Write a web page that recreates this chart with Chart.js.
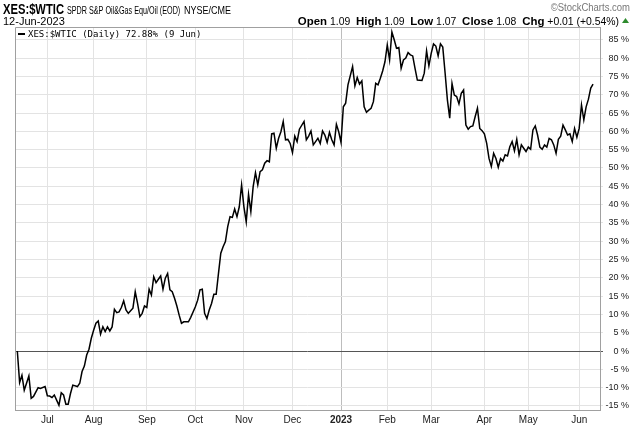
<!DOCTYPE html>
<html>
<head>
<meta charset="utf-8">
<script src="https://cdn.jsdelivr.net/npm/chart.js@4/dist/chart.umd.min.js"></script>
<style>
  html, body { margin: 0; padding: 0; background: #fff; }
  #wrap { width: 640px; height: 426px; }
</style>
</head>
<body>
<div id="wrap"><canvas id="chart" width="640" height="426"></canvas></div>
<script>
// trading-day index (0 = 13 Jun 2022) and % change of XES:$WTIC
const days = [0,1,2,3,5,6,7,9,10,12,13,14,15,16,17,18,19,20,21,22,23,24,26,27,28,29,30,31,32,33,34,35,36,37,38,39,40,41,42,43,
  44,45,46,47,48,50,51,52,53,54,55,56,57,58,59,60,61,62,63,64,65,66,67,68,69,70,71,72,74,75,77,78,79,80,81,82,83,84,85,86,87,88,
  89,90,91,92,93,94,95,96,97,98,99,100,101,102,103,104,105,106,107,108,109,110,111,112,113,114,115,116,117,118,119,120,121,122,124,125,126,127,128,129,130,131,
  132,133,134,135,136,137,138,139,140,141,142,143,145,146,147,148,149,150,151,152,153,154,155,156,157,158,159,160,161,162,163,164,165,166,167,168,169,170,171,172,173,
  175,176,177,178,179,180,181,182,183,184,185,186,187,188,189,190,191,192,193,194,195,196,197,198,199,200,201,202,203,204,205,206,207,208,209,210,211,212,213,214,215,216,217,218,
  219,220,221,222,223,224,225,226,227,228,229,230,231,232,233,234,235,236,237,238,239,240,241,242,243,244,245,246,247,248,249];
const values = [0,-8.6,-6.6,-10.7,-6.8,-12.9,-12.4,-10.0,-10.2,-9.7,-12.2,-12.3,-12.7,-12.0,-13.4,-14.8,-11.4,-12.0,-14.5,-14.5,-11.6,-9.3,-9.7,-8.8,-5.6,-4.1,-1.1,0.5,3.5,5.7,7.6,8.2,4.6,6.6,5.3,6.6,5.5,6.6,11.4,10.5,
  10.7,11.9,13.7,11.2,10.3,11.7,16.2,13.0,9.4,10.3,12.3,11.9,16.9,15.3,20.3,18.7,19.6,20.5,16.9,19.9,21.2,16.7,16.2,14.4,12.3,9.8,7.6,8.0,8.0,9.2,12.1,13.9,16.7,16.9,10.3,8.9,11.2,13.0,15.5,15.5,21.2,26.7,
  28.5,29.9,34.0,36.7,36.5,38.8,36.7,39.4,45.4,39.4,35.3,42.8,38.1,44.9,48.7,45.4,49.0,49.5,51.3,52.0,51.7,59.3,59.5,55.4,58.1,59.9,62.7,57.7,57.8,56.7,54.2,58.7,57.2,60.6,62.7,57.7,58.7,60.1,56.3,57.2,58.1,56.7,
  60.1,59.0,57.0,59.7,57.7,56.3,61.9,59.9,57.0,66.7,67.7,72.7,77.7,72.4,74.7,72.9,73.8,66.7,65.2,65.8,66.3,68.1,73.1,72.7,74.5,76.5,79.0,83.6,79.5,87.1,85.0,82.7,82.9,77.2,79.5,80.0,81.5,80.9,80.6,77.2,74.0,
  73.9,75.9,82.0,77.9,81.3,83.9,83.3,80.6,83.9,83.0,76.0,68.6,63.6,73.1,69.9,69.5,67.5,70.4,71.3,61.7,60.6,61.3,61.5,64.0,66.3,60.8,60.2,59.3,56.7,52.6,50.4,54.0,52.6,50.2,52.6,51.9,53.6,53.3,55.8,57.2,54.7,57.8,53.6,56.3,
  55.4,54.5,55.7,55.1,60.4,61.5,59.0,55.7,55.1,56.3,55.7,58.1,57.7,56.3,54.0,57.8,58.7,61.7,60.4,59.0,59.3,57.2,60.8,58.4,60.8,67.2,63.1,66.7,68.8,71.8,72.88];

// first trading day of each month and its label
const monthTicks = [13, 33, 56, 77, 98, 119, 140, 160, 179, 202, 221, 243];
const monthLabels = ["Jul", "Aug", "Sep", "Oct", "Nov", "Dec", "2023", "Feb", "Mar", "Apr", "May", "Jun"];
const yTicks = [-15, -10, -5, 0, 5, 10, 15, 20, 25, 30, 35, 40, 45, 50, 55, 60, 65, 70, 75, 80, 85];

const FONT = "'Liberation Sans', Arial, sans-serif";

// narrow text: draw squeezed horizontally, returns drawn width
function narrowText(ctx, text, x, y, font, sx, align) {
  ctx.font = font;
  const w = ctx.measureText(text).width * sx;
  const left = align === "right" ? x - w : x;
  ctx.save();
  ctx.textAlign = "left";
  ctx.translate(left, y);
  ctx.scale(sx, 1);
  ctx.fillText(text, 0, 0);
  ctx.restore();
  return w;
}

const frame = {
  id: "frame",
  beforeDatasetsDraw(chart) {
    const { ctx, chartArea: a } = chart;
    ctx.save();
    ctx.strokeStyle = "#a0a0a0";
    ctx.lineWidth = 1;
    ctx.beginPath();
    ctx.moveTo(a.left + 0.5, a.bottom);
    ctx.lineTo(a.left + 0.5, a.top + 0.5);
    ctx.lineTo(a.right, a.top + 0.5);
    ctx.stroke();
    ctx.restore();
  }
};

const header = {
  id: "header",
  afterDraw(chart) {
    const ctx = chart.ctx;
    ctx.save();
    ctx.fillStyle = "#000";
    ctx.textBaseline = "alphabetic";
    narrowText(ctx, "XES:$WTIC", 3, 14, "bold 14px " + FONT, 0.8);
    narrowText(ctx, "SPDR S&P Oil&Gas Equ/Oil (EOD)", 67, 14, "10px " + FONT, 0.72);
    narrowText(ctx, "NYSE/CME", 184, 14, "10px " + FONT, 0.9);
    narrowText(ctx, "12-Jun-2023", 3, 25, "11px " + FONT, 1.0);

    ctx.fillStyle = "#777";
    narrowText(ctx, "\u00A9StockCharts.com", 630, 11, "10px " + FONT, 0.95, "right");

    // quote line, drawn right to left
    ctx.fillStyle = "#000";
    const parts = [
      ["bold", "Open"], ["", " 1.09  "], ["bold", "High"], ["", " 1.09  "], ["bold", "Low"], ["", " 1.07  "],
      ["bold", "Close"], ["", " 1.08  "], ["bold", "Chg"], ["", " +0.01 (+0.54%)"]
    ];
    let x = 619;
    for (let i = parts.length - 1; i >= 0; i--) {
      const f = (parts[i][0] === "bold" ? "bold 11px " : "10px ") + FONT;
      x -= narrowText(ctx, parts[i][1], x, 25, f, 1.04, "right");
    }
    ctx.fillStyle = "#2e8b2e";
    ctx.beginPath();
    ctx.moveTo(622, 23);
    ctx.lineTo(629, 23);
    ctx.lineTo(625.5, 18);
    ctx.closePath();
    ctx.fill();

    // legend inside the plot
    const a = chart.chartArea;
    ctx.fillStyle = "#000";
    ctx.fillRect(a.left + 3, a.top + 6, 7, 2);
    ctx.textAlign = "left";
    ctx.font = "9px 'DejaVu Sans Mono', monospace";
    ctx.fillText("XES:$WTIC (Daily) 72.88% (9 Jun)", a.left + 13, a.top + 10);
    ctx.restore();
  }
};

new Chart(document.getElementById("chart"), {
  type: "line",
  data: {
    datasets: [{
      data: days.map((d, i) => ({ x: d, y: values[i] })),
      borderColor: "#000",
      borderWidth: 1.5,
      pointRadius: 0,
      tension: 0
    }]
  },
  options: {
    responsive: false,
    animation: false,
    layout: { padding: { top: 27, left: 15, right: 11, bottom: 0 } },
    plugins: { legend: { display: false }, tooltip: { enabled: false } },
    scales: {
      x: {
        type: "linear",
        min: -1,
        max: 252,
        afterBuildTicks: (ax) => { ax.ticks = monthTicks.map(v => ({ value: v })); },
        afterFit: (ax) => { ax.height = 16; },
        grid: {
          color: (c) => (c.tick && c.tick.value === 140 ? "#bdbdbd" : "#e3e3e3"),
          drawTicks: false
        },
        border: { color: "#a0a0a0" },
        ticks: {
          autoSkip: false,
          maxRotation: 0,
          padding: 4,
          color: "#222",
          font: (c) => ({ family: FONT, size: 10, weight: c.tick && c.tick.value === 140 ? "bold" : "normal" }),
          callback: (v) => monthLabels[monthTicks.indexOf(v)]
        }
      },
      y: {
        position: "right",
        min: -16.1,
        max: 88.5,
        afterBuildTicks: (ax) => { ax.ticks = yTicks.map(v => ({ value: v })); },
        afterFit: (ax) => { ax.width = 29; },
        grid: {
          color: (c) => (c.tick && c.tick.value === 0 ? "#555" : "#e3e3e3"),
          tickLength: 3
        },
        border: { color: "#a0a0a0" },
        ticks: {
          crossAlign: "far",
          padding: 2,
          color: "#222",
          font: { family: FONT, size: 9 },
          callback: (v) => v + " %"
        }
      }
    }
  },
  plugins: [frame, header]
});
</script>
</body>
</html>
